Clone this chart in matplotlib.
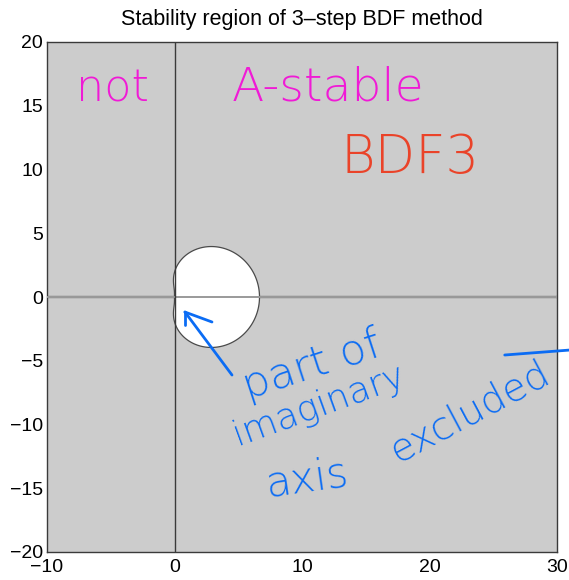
import numpy as np
import matplotlib
matplotlib.use("Agg")
import matplotlib.pyplot as plt

# BDF3: 11/6 y_{n+3} - 3 y_{n+2} + 3/2 y_{n+1} - 1/3 y_n = h f_{n+3}
rho_coeffs = [11 / 6, -3.0, 3 / 2, -1 / 3]   # highest power first
sigma_coeffs = [1.0, 0.0, 0.0, 0.0]

x_limits = [-10, 30]
y_limits = [-20, 20]
x_ticks = [-10, 0, 10, 20, 30]
y_ticks = [-20, -15, -10, -5, 0, 5, 10, 15, 20]

# boundary locus z = rho(zeta) / sigma(zeta) on the unit circle
theta = np.linspace(0, 2 * np.pi, 721)
zeta = np.exp(1j * theta)
z = np.polyval(rho_coeffs, zeta) / np.polyval(sigma_coeffs, zeta)

plt.rcParams["font.family"] = ["Liberation Sans", "DejaVu Sans"]

fig = plt.figure(figsize=(5.69, 5.80), dpi=100)
ax = fig.add_axes([47 / 569, 28 / 580, 510 / 569, 510 / 580])
ax.set_facecolor("#cccccc")

ax.axhline(0, color="#6e6e6e", lw=1.7, zorder=1)
ax.fill(z.real, z.imag, facecolor="white", edgecolor="#4a4a4a", lw=0.9, zorder=2)
ax.axhline(0, xmin=0, xmax=1, color="#9a9a9a", lw=1.4, zorder=3)
ax.axvline(0, color="#3a3a3a", lw=1.0, zorder=4)

ax.set_xlim(x_limits)
ax.set_ylim(y_limits)
ax.set_xticks(x_ticks)
ax.set_yticks(y_ticks)
ax.tick_params(length=0, labelsize=14, colors="black")
ax.tick_params(axis="x", pad=5)
ax.tick_params(axis="y", pad=3)
for s in ax.spines.values():
    s.set_color("#3a3a3a")
    s.set_linewidth(1.0)

ax.set_title("Stability region of 3\u2013step BDF method", fontsize=15.5, pad=12)

# pen notes
magenta = "#f01ad6"
red = "#ea4329"
blue = "#0b6cf4"
hand = dict(family=["DejaVu Sans"], fontweight="light",
            ha="center", va="center", zorder=6)

ax.text(-4.9, 16.3, "not", color=magenta, fontsize=32, **hand)
ax.text(12.0, 16.4, "A-stable", color=magenta, fontsize=34, **hand)
ax.text(18.5, 10.9, "BDF3", color=red, fontsize=38, **hand)
ax.text(10.8, -5.4, "part of", color=blue, fontsize=31, rotation=18, **hand)
ax.text(11.3, -8.5, "imaginary", color=blue, fontsize=26, rotation=20, **hand)
ax.text(10.4, -14.2, "axis", color=blue, fontsize=30, rotation=8, **hand)
ax.text(23.2, -9.0, "excluded", color=blue, fontsize=28, rotation=28, **hand)

# arrow pointing at the excluded stretch of the imaginary axis
pen = dict(color=blue, lw=2.0, solid_capstyle="round", zorder=6)
ax.plot([4.51, 0.82], [-6.12, -1.18], **pen)
ax.plot([0.82, 2.94], [-1.18, -1.96], **pen)
ax.plot([0.82, 0.82], [-1.18, -2.2], **pen)
ax.plot([25.9, 31.0], [-4.55, -4.16], clip_on=False, **pen)

fig.savefig("out.png", dpi=100)
